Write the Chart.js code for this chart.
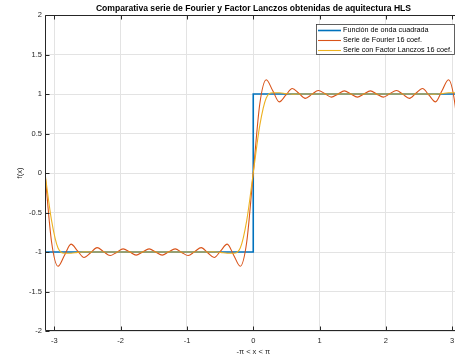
<!DOCTYPE html>
<html>
<head>
<meta charset="utf-8">
<script src="https://cdn.jsdelivr.net/npm/chart.js@4/dist/chart.umd.min.js"></script>
<style>
  html, body { margin: 0; padding: 0; background: #fff; overflow: hidden; }
  #wrap { width: 455px; height: 358px; overflow: hidden; }
</style>
</head>
<body>
<div id="wrap"><canvas id="chart" width="470" height="358"></canvas></div>
<script>
// sample grid, -pi .. pi in steps of pi/32
var xs = [
  -3.142, -3.043, -2.945, -2.847, -2.749, -2.651, -2.553, -2.454, -2.356, -2.258, -2.160,
  -2.062, -1.963, -1.865, -1.767, -1.669, -1.571, -1.473, -1.374, -1.276, -1.178, -1.080,
  -0.982, -0.884, -0.785, -0.687, -0.589, -0.491, -0.393, -0.295, -0.196, -0.098, 0,
  0.098, 0.196, 0.295, 0.393, 0.491, 0.589, 0.687, 0.785, 0.884, 0.982, 1.080,
  1.178, 1.276, 1.374, 1.473, 1.571, 1.669, 1.767, 1.865, 1.963, 2.062, 2.160,
  2.258, 2.356, 2.454, 2.553, 2.651, 2.749, 2.847, 2.945, 3.043, 3.142
];

// truncated Fourier series (16 coef.)
var fourier = [
  0, -0.87, -1.18, -1.04, -0.90, -0.985, -1.07, -1.01, -0.945, -0.995, -1.045,
  -1.005, -0.96, -0.998, -1.04, -1.0, -0.96, -1.0, -1.04, -0.998, -0.96, -1.005,
  -1.045, -0.995, -0.945, -1.01, -1.07, -0.985, -0.90, -1.04, -1.18, -0.87, 0,
  0.87, 1.18, 1.04, 0.90, 0.985, 1.07, 1.01, 0.945, 0.995, 1.045, 1.005,
  0.96, 0.998, 1.04, 1.0, 0.96, 1.0, 1.04, 0.998, 0.96, 1.005, 1.045,
  0.995, 0.945, 1.01, 1.07, 0.985, 0.90, 1.04, 1.18, 0.87, 0
];

// same series with Lanczos sigma factors
var lanczos = [
  0, -0.6, -0.95, -1.015, -1.015, -1.005, -0.998, -1.0, -1.0, -1.0, -1.0,
  -1.0, -1.0, -1.0, -1.0, -1.0, -1.0, -1.0, -1.0, -1.0, -1.0, -1.0,
  -1.0, -1.0, -1.0, -1.0, -0.998, -1.005, -1.015, -1.015, -0.95, -0.6, 0,
  0.6, 0.95, 1.015, 1.015, 1.005, 0.998, 1.0, 1.0, 1.0, 1.0, 1.0,
  1.0, 1.0, 1.0, 1.0, 1.0, 1.0, 1.0, 1.0, 1.0, 1.0, 1.0,
  1.0, 1.0, 1.0, 1.0, 1.0, 0.998, 1.005, 1.015, 1.015, 0.95, 0.6, 0
];

// ideal square wave, corner points
var squareX = [-3.1416, 0, 0, 3.1416];
var squareY = [-1, -1, 1, 1];

var xTicks = [-3, -2, -1, 0, 1, 2, 3];
var seriesNames = ['Función de onda cuadrada', 'Serie de Fourier 16 coef.', 'Serie con Factor Lanczos 16 coef.'];
var seriesColors = ['#0072BD', '#D95319', '#EDB120'];
var titleText = 'Comparativa serie de Fourier y Factor Lanczos obtenidas de aquitectura HLS';

var axisColor = '#262626';
var fontFamily = '"Liberation Sans", Arial, Helvetica, sans-serif';

function points(x, y) {
  return x.map(function (v, i) { return { x: v, y: y[i] }; });
}

// matlab-like axes: box, inward ticks, legend inside, title over the plot
var axesDecor = {
  id: 'axesDecor',
  afterDatasetsDraw: function (chart) {
    var ctx = chart.ctx, a = chart.chartArea;
    var sx = chart.scales.x, sy = chart.scales.y;
    var L = Math.round(a.left) + 0.5, T = Math.round(a.top) + 0.5;
    var B = Math.round(a.bottom) - 0.5, R = a.right;
    ctx.save();
    ctx.strokeStyle = axisColor;
    ctx.lineWidth = 1;
    ctx.beginPath();
    ctx.moveTo(R, T); ctx.lineTo(L, T); ctx.lineTo(L, B); ctx.lineTo(R, B);
    ctx.moveTo(R, T); ctx.lineTo(R, B);
    xTicks.forEach(function (t) {
      var px = Math.round(sx.getPixelForValue(t)) + 0.5;
      ctx.moveTo(px, B); ctx.lineTo(px, B - 4);
      ctx.moveTo(px, T); ctx.lineTo(px, T + 4);
    });
    sy.ticks.forEach(function (t) {
      var py = Math.round(sy.getPixelForValue(t.value)) + 0.5;
      ctx.moveTo(L, py); ctx.lineTo(L + 4, py);
    });
    ctx.stroke();

    // legend box
    var bx = 316.5, by = 24.5, bw = 138, bh = 30;
    ctx.fillStyle = '#fff';
    ctx.fillRect(bx, by, bw, bh);
    ctx.strokeStyle = '#3a3a3a';
    ctx.lineWidth = 0.8;
    ctx.strokeRect(bx, by, bw, bh);
    ctx.font = '7.2px ' + fontFamily;
    ctx.textBaseline = 'middle';
    ctx.textAlign = 'left';
    seriesNames.forEach(function (name, i) {
      var ry = 30.5 + i * 10;
      ctx.strokeStyle = seriesColors[i];
      ctx.lineWidth = i === 0 ? 1.6 : 1.1;
      ctx.beginPath(); ctx.moveTo(318, ry); ctx.lineTo(341, ry); ctx.stroke();
      ctx.fillStyle = '#000';
      ctx.fillText(name, 343, ry);
    });

    // title
    ctx.font = 'bold 8.6px ' + fontFamily;
    ctx.textAlign = 'center';
    ctx.fillStyle = '#000';
    ctx.fillText(titleText, 253.5, 9);
    ctx.restore();
  }
};

new Chart(document.getElementById('chart'), {
  type: 'line',
  data: {
    datasets: [
      {
        label: seriesNames[0], data: points(squareX, squareY),
        borderColor: seriesColors[0], borderWidth: 1.6, pointRadius: 0,
        tension: 0, order: 2
      },
      {
        label: seriesNames[1], data: points(xs, fourier),
        borderColor: seriesColors[1], borderWidth: 1.1, pointRadius: 0,
        cubicInterpolationMode: 'monotone', order: 1
      },
      {
        label: seriesNames[2], data: points(xs, lanczos),
        borderColor: seriesColors[2], borderWidth: 1.1, pointRadius: 0,
        cubicInterpolationMode: 'monotone', order: 0
      }
    ]
  },
  options: {
    responsive: false,
    animation: false,
    devicePixelRatio: 1,
    layout: { padding: { top: 15, right: 8.5, left: 0, bottom: 0 } },
    plugins: {
      legend: { display: false },
      tooltip: { enabled: false },
      title: { display: false }
    },
    scales: {
      x: {
        type: 'linear',
        min: -Math.PI, max: Math.PI,
        afterBuildTicks: function (scale) {
          scale.ticks = xTicks.map(function (v) { return { value: v }; });
        },
        afterFit: function (scale) { scale.height = 27; },
        grid: { color: '#e3e3e3', lineWidth: 1, drawTicks: false },
        border: { display: false },
        ticks: {
          padding: 5, color: axisColor,
          font: { family: fontFamily, size: 7.5 },
          maxRotation: 0,
          callback: function (v) { return String(v); }
        },
        title: {
          display: true, text: '-π < x < π', color: axisColor,
          font: { family: fontFamily, size: 7.5 },
          padding: { top: 0, bottom: 1.5 }
        }
      },
      y: {
        min: -2, max: 2,
        afterFit: function (scale) { scale.width = 45; },
        grid: { color: '#e3e3e3', lineWidth: 1, drawTicks: false },
        border: { display: false },
        ticks: {
          stepSize: 0.5, padding: 3, color: axisColor,
          font: { family: fontFamily, size: 7.5 },
          callback: function (v) { return String(Math.round(v * 10) / 10); }
        },
        title: {
          display: true, text: 'f(x)', color: axisColor,
          font: { family: fontFamily, size: 7.5 },
          padding: { top: 15.5, bottom: 0 }
        }
      }
    }
  },
  plugins: [axesDecor]
});
</script>
</body>
</html>
